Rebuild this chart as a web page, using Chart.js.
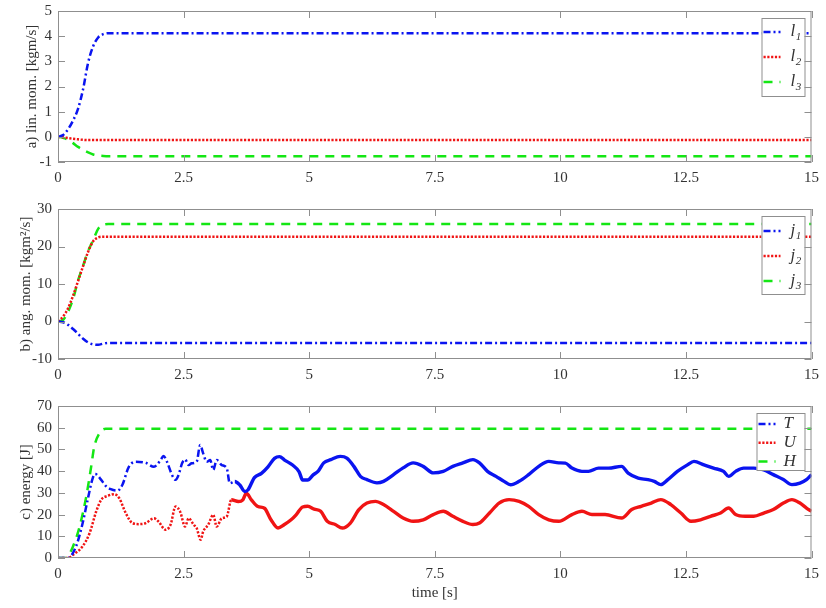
<!DOCTYPE html>
<html>
<head>
<meta charset="utf-8">
<script src="https://cdn.jsdelivr.net/npm/chart.js@4.4.1/dist/chart.umd.min.js"></script>
<style>
body { margin: 0; background: #fff; }
#wrap { position: relative; width: 826px; height: 608px; overflow: hidden; }
canvas { position: absolute; left: 0; }
</style>
</head>
<body>
<div id="wrap">
  <canvas id="chartA" width="826" height="194" style="top:-4px"></canvas>
  <canvas id="chartB" width="826" height="197" style="top:190px"></canvas>
  <canvas id="chartC" width="826" height="221" style="top:387px"></canvas>
</div>
<script>
// a) linear momentum
var tA = [0, 0.1, 0.2, 0.3, 0.4, 0.5, 0.6, 0.7, 0.8, 0.9, 1.0, 1.5, 15];
var lin1 = [0, 0.07, 0.3, 0.65, 1.12, 1.9, 2.95, 3.6, 3.95, 4.08, 4.12, 4.12, 4.12];
var lin2 = [0, -0.02, -0.05, -0.08, -0.1, -0.12, -0.13, -0.13, -0.13, -0.13, -0.13, -0.13, -0.13];
var lin3 = [0, -0.04, -0.12, -0.25, -0.4, -0.52, -0.62, -0.7, -0.74, -0.76, -0.77, -0.77, -0.77];

// b) angular momentum
var tB = [0, 0.1, 0.2, 0.3, 0.4, 0.5, 0.6, 0.7, 0.8, 0.9, 1.0, 1.5, 15];
var ang1 = [0, -0.2, -0.9, -2.0, -3.3, -4.6, -5.6, -6.1, -6.2, -5.9, -5.7, -5.7, -5.7];
var ang2 = [0, 1.3, 3.5, 6.9, 10.8, 14.8, 18.6, 21.4, 22.4, 22.6, 22.6, 22.6, 22.6];
var ang3 = [0, 0.4, 2.6, 6.0, 11.0, 14.9, 18.8, 21.7, 24.7, 25.8, 26.0, 26.0, 26.0];

// c) energy
var tH = [0, 0.15, 0.3, 0.43, 0.56, 0.66, 0.72, 0.82, 0.95, 1.1, 15];
var enH = [0, 0, 5.4, 14.5, 28, 42, 51, 57.3, 59.5, 59.5, 59.5];

var tT = [0, 0.2, 0.36, 0.49, 0.59, 0.69, 0.74, 0.86, 0.95, 1.05, 1.18, 1.28, 1.41, 1.55, 1.74, 1.91, 2.04, 2.1, 2.17, 2.27,
  2.34, 2.4, 2.47, 2.53, 2.6, 2.66, 2.76, 2.83, 2.89, 2.96, 3.03, 3.09, 3.16, 3.26, 3.36, 3.42, 3.52, 3.62, 3.72, 3.78,
  3.91, 4.05, 4.18, 4.31, 4.41, 4.51, 4.67, 4.8, 4.87, 4.97, 5.08, 5.18, 5.29, 5.43, 5.62, 5.75, 5.89, 6.02, 6.15, 6.35,
  6.48, 6.68, 6.87, 7.07, 7.27, 7.47, 7.67, 7.86, 8.06, 8.26, 8.39, 8.55, 8.72, 8.88, 9.01, 9.18, 9.37, 9.57, 9.77, 9.97,
  10.1, 10.23, 10.43, 10.56, 10.76, 10.96, 11.22, 11.35, 11.55, 11.74, 11.87, 12.0, 12.14, 12.33, 12.53, 12.66, 12.86, 13.05, 13.25, 13.35,
  13.49, 13.65, 13.85, 14.05, 14.24, 14.44, 14.61, 14.77, 14.9, 15];
var enT = [0, 0, 5.4, 16, 26.8, 36.7, 38.7, 36, 33.2, 31.7, 31, 33.6, 42, 44.3, 43.9, 42, 45, 47, 44.3, 38.2,
  36, 38.2, 43.6, 45.4, 42.8, 43.6, 44.3, 52, 48.2, 44.3, 45.1, 40.5, 45.1, 42.8, 41.3, 34.4, 35.2, 33.6, 30.6, 31.3,
  37, 39, 42, 45.9, 46.7, 45.1, 42.8, 39.7, 35.9, 35.9, 38.3, 40, 43.8, 45.3, 46.8, 46, 42.2, 37.6, 36.1, 34.6,
  35.3, 38.4, 41.5, 43.8, 42.2, 39.2, 39.9, 42.2, 43.8, 45.3, 43.8, 39.9, 37.6, 35.3, 33.7, 35.3, 38.4, 42.2, 44.5, 43.8,
  43.7, 41.4, 39.9, 39.9, 41.4, 41.4, 42.2, 39.1, 36.8, 36.1, 35.3, 33.8, 36.1, 39.9, 42.9, 44.5, 42.9, 41.4, 39.9, 37.6,
  39.9, 41.4, 41.4, 40.6, 38.4, 36.1, 33.8, 34.5, 36.1, 38.4];

var tU = [0, 0.2, 0.3, 0.49, 0.63, 0.76, 0.86, 0.99, 1.12, 1.22, 1.35, 1.48, 1.61, 1.74, 1.91, 2.0, 2.14, 2.24, 2.34, 2.43,
  2.53, 2.6, 2.7, 2.76, 2.84, 2.89, 2.99, 3.09, 3.16, 3.26, 3.36, 3.45, 3.59, 3.68, 3.75, 3.85, 3.98, 4.11, 4.24, 4.38,
  4.5, 4.64, 4.74, 4.87, 4.97, 5.1, 5.23, 5.36, 5.52, 5.66, 5.82, 5.99, 6.15, 6.32, 6.48, 6.68, 6.87, 7.07, 7.27, 7.47,
  7.67, 7.86, 8.06, 8.26, 8.39, 8.59, 8.78, 8.98, 9.18, 9.37, 9.57, 9.77, 9.97, 10.23, 10.43, 10.63, 10.89, 11.22, 11.42, 11.61,
  11.81, 12.0, 12.2, 12.4, 12.6, 12.79, 12.99, 13.19, 13.35, 13.49, 13.68, 13.85, 14.05, 14.24, 14.44, 14.61, 14.77, 14.9, 15];
var enU = [0, 0, 1.5, 5.4, 11.5, 21.4, 26.8, 28.6, 29.4, 27.5, 20.6, 16.1, 15.6, 16, 18.3, 16.8, 13, 15.3, 23.7, 21.4,
  14.5, 18.3, 15.3, 13.8, 8.4, 12.2, 15.3, 19.9, 14.5, 18.3, 19.1, 26.8, 26, 26.8, 29.8, 26.8, 23.7, 22.9, 17.6, 13.8,
  15.3, 17.6, 19.9, 23.5, 23.8, 22.5, 21.5, 16.9, 15.4, 13.8, 16.1, 22.3, 25.3, 26.1, 24.6, 21.5, 18.4, 16.9, 17.6, 20,
  21.5, 19.2, 16.9, 15.4, 16.1, 20.7, 25.3, 26.9, 26.1, 23.8, 20, 17.6, 16.9, 20, 21.5, 20, 20, 18.4, 22.3, 23.8,
  25.3, 26.9, 24.6, 20.7, 16.9, 17.6, 19.2, 20.7, 23, 20, 19.2, 19.2, 20.7, 22.3, 25.3, 26.9, 25.3, 23, 21.5];

var xTicks = ['0', '2.5', '5', '7.5', '10', '12.5', '15'];

var BLUE = '#0a14f0', RED = '#f01414', GREEN = '#14e614';
var DASHDOT = [7, 3, 2, 3], DOT = [2.2, 1.6], DASH = [9, 7];
var FONT = '"Liberation Serif", "Times New Roman", serif';
var TXT = '#333333';

function pts(ts, vs) {
  return ts.map(function (t, i) { return { x: t, y: vs[i] }; });
}

function line(data, color, dash, extra) {
  var ds = {
    data: data, borderColor: color, borderWidth: 2.5, borderDash: dash,
    pointRadius: 0, fill: false, cubicInterpolationMode: 'monotone'
  };
  for (var k in extra) ds[k] = extra[k];
  return ds;
}

// dashed early part, continuous once the noisy oscillation starts
function noisySegment(dash, tSwitch) {
  return {
    borderDash: function (c) { return c.p0.parsed.x >= tSwitch ? [] : dash; },
    borderWidth: function (c) { return c.p0.parsed.x >= tSwitch ? 3.4 : 2.5; }
  };
}

const frameTicks = {
  id: 'frameTicks',
  afterDraw(chart) {
    const ctx = chart.ctx, a = chart.chartArea, x = chart.scales.x, y = chart.scales.y;
    ctx.save();
    ctx.strokeStyle = '#8f8f8f';
    ctx.lineWidth = 1;
    ctx.strokeRect(a.left + 0.5, a.top + 0.5, a.width - 1, a.height - 1);
    ctx.beginPath();
    x.ticks.forEach(function (t) {
      const px = Math.round(x.getPixelForValue(t.value)) + 0.5;
      ctx.moveTo(px, a.bottom); ctx.lineTo(px, a.bottom - 7);
      ctx.moveTo(px, a.top); ctx.lineTo(px, a.top + 7);
    });
    y.ticks.forEach(function (t) {
      const py = Math.round(y.getPixelForValue(t.value)) + 0.5;
      ctx.moveTo(a.left, py); ctx.lineTo(a.left + 7, py);
      ctx.moveTo(a.right, py); ctx.lineTo(a.right - 7, py);
    });
    ctx.stroke();
    ctx.restore();
  }
};

const boxLegend = {
  id: 'boxLegend',
  afterDatasetsDraw(chart, args, opts) {
    const ctx = chart.ctx, a = chart.chartArea;
    const left = a.right - 7 - opts.w, top = a.top + 7;
    ctx.save();
    ctx.fillStyle = '#fff';
    ctx.fillRect(left, top, opts.w, opts.h);
    ctx.strokeStyle = '#8f8f8f';
    ctx.lineWidth = 1;
    ctx.strokeRect(left + 0.5, top + 0.5, opts.w, opts.h);
    opts.items.forEach(function (it, i) {
      const cy = top + opts.first + i * opts.row;
      ctx.beginPath();
      ctx.strokeStyle = it.color;
      ctx.lineWidth = 2.5;
      ctx.setLineDash(it.dash);
      ctx.moveTo(left + 2, cy); ctx.lineTo(left + 19, cy);
      ctx.stroke();
      ctx.setLineDash([]);
      ctx.fillStyle = TXT;
      ctx.textBaseline = 'middle';
      ctx.font = 'italic 17px ' + FONT;
      const tx = left + opts.textDx;
      ctx.fillText(it.name, tx, cy);
      if (it.sub) {
        const w = ctx.measureText(it.name).width;
        ctx.font = 'italic 11px ' + FONT;
        ctx.fillText(it.sub, tx + w + 0.5, cy + 5);
      }
    });
    ctx.restore();
  }
};

function makePanel(id, datasets, yMin, yMax, yStep, yTitle, titlePad, legend, padTop, xAxisH, xTitle) {
  return new Chart(document.getElementById(id), {
    type: 'line',
    data: { datasets: datasets },
    options: {
      responsive: false,
      animation: false,
      layout: { padding: { top: padTop, right: 8, bottom: 0, left: 0 } },
      plugins: { legend: { display: false }, tooltip: { enabled: false }, boxLegend: legend },
      scales: {
        x: {
          type: 'linear', min: 0, max: 15,
          afterFit: function (s) { s.height = xAxisH; },
          afterBuildTicks: function (s) { s.ticks = xTicks.map(function (v) { return { value: parseFloat(v) }; }); },
          ticks: {
            padding: 7, color: TXT, font: { family: FONT, size: 15 }, maxRotation: 0, autoSkip: false,
            callback: function (v) { return xTicks[Math.round(v / 2.5)]; }
          },
          grid: { display: false, drawTicks: false },
          border: { display: false },
          title: { display: !!xTitle, text: xTitle || '', color: TXT, font: { family: FONT, size: 15 }, padding: { top: 0, bottom: 6 } }
        },
        y: {
          min: yMin, max: yMax,
          afterFit: function (s) { s.width = 58; },
          ticks: { stepSize: yStep, padding: 6, color: TXT, font: { family: FONT, size: 15 } },
          grid: { display: false, drawTicks: false },
          border: { display: false },
          title: { display: true, text: yTitle, color: TXT, font: { family: FONT, size: 15 }, padding: { top: titlePad, bottom: 0 } }
        }
      }
    },
    plugins: [boxLegend, frameTicks]
  });
}

makePanel('chartA', [
  line(pts(tA, lin1), BLUE, DASHDOT),
  line(pts(tA, lin2), RED, DOT),
  line(pts(tA, lin3), GREEN, DASH)
], -1, 5, 1, 'a) lin. mom. [kgm/s]', 23, {
  w: 43, h: 78, row: 25, first: 14, textDx: 29,
  items: [
    { name: 'l', sub: '1', color: BLUE, dash: DASHDOT },
    { name: 'l', sub: '2', color: RED, dash: DOT },
    { name: 'l', sub: '3', color: GREEN, dash: DASH }
  ]
}, 15, 28);

makePanel('chartB', [
  line(pts(tB, ang1), BLUE, DASHDOT),
  line(pts(tB, ang2), RED, DOT),
  line(pts(tB, ang3), GREEN, DASH)
], -10, 30, 10, 'b) ang. mom. [kgm\u00b2/s]', 17, {
  w: 43, h: 78, row: 25, first: 15, textDx: 29,
  items: [
    { name: 'j', sub: '1', color: BLUE, dash: DASHDOT },
    { name: 'j', sub: '2', color: RED, dash: DOT },
    { name: 'j', sub: '3', color: GREEN, dash: DASH }
  ]
}, 19, 28);

makePanel('chartC', [
  line(pts(tT, enT), BLUE, DASHDOT, { segment: noisySegment(DASHDOT, 3.45) }),
  line(pts(tU, enU), RED, DOT, { segment: noisySegment(DOT, 3.4) }),
  line(pts(tH, enH), GREEN, DASH)
], 0, 70, 10, 'c) energy [J]', 17, {
  w: 48, h: 57, row: 18.7, first: 11, textDx: 27,
  items: [
    { name: 'T', sub: '', color: BLUE, dash: DASHDOT },
    { name: 'U', sub: '', color: RED, dash: DOT },
    { name: 'H', sub: '', color: GREEN, dash: DASH }
  ]
}, 19, 50, 'time [s]');
</script>
</body>
</html>
